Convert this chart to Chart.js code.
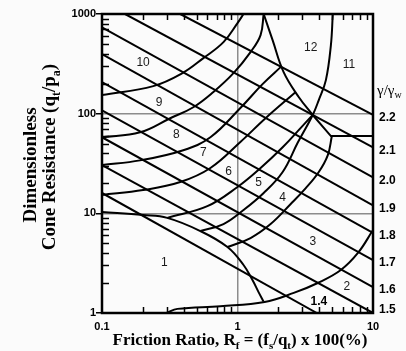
<!DOCTYPE html>
<html>
<head>
<meta charset="utf-8">
<script src="https://cdn.jsdelivr.net/npm/chart.js@4.4.1/dist/chart.umd.min.js"></script>
<style>
  html, body { margin: 0; padding: 0; background: #fbfbfb; }
  canvas { display: block; }
</style>
</head>
<body>
<canvas id="sbt" width="406" height="351"></canvas>
<script>
// axes
const xTicks = [0.1, 1, 10]
const yTicks = [1, 10, 100, 1000]
const xGrid = [1]
const yGrid = [10, 100]

// unit weight lines, gamma / gamma_w
const gammaNames = ['2.2', '2.1', '2.0', '1.9', '1.8', '1.7', '1.6', '1.5', '1.4']
const gammaStartRf = [0.378, 0.148, 0.1, 0.1, 0.1, 0.1, 0.1, 0.1, 0.1]
const gammaStartQt = [1000, 1000, 735, 396, 207, 108, 58, 30.5, 16]
const gammaEndRf = [10, 10, 10, 10, 10, 10, 10, 10, 3.85]
const gammaEndQt = [97, 46, 23, 12, 6.35, 3.4, 1.82, 1.0, 1]

// zone boundaries (Rf %, qt/pa)
const b10Rf = [0.1, 0.239, 0.392, 0.56, 0.788, 1.0, 1.108]
const b10Qt = [154, 189, 255, 361, 522, 811, 1000]
const b9Rf = [0.1, 0.191, 0.319, 0.472, 0.664, 0.934, 1.248, 1.48, 1.56]
const b9Qt = [58, 65, 90, 116, 165, 255, 415, 614, 1000]
const b8Rf = [0.1, 0.191, 0.398, 0.631, 1.05, 1.53, 2.12]
const b8Qt = [30.5, 34, 43, 58, 114, 198, 300]
const b7Rf = [0.1, 0.201, 0.378, 0.631, 1.05, 1.61, 2.69]
const b7Qt = [15.3, 17.1, 20.6, 28.5, 52, 90, 165]
const b6Rf = [0.303, 0.599, 1.0, 1.48, 2.154, 2.93, 3.59]
const b6Qt = [9.0, 11.8, 18.4, 28.5, 46, 72, 97]
const b5Rf = [0.532, 0.788, 1.108, 1.56, 2.154, 2.78, 3.59, 3.98, 4.49, 4.89, 5.05]
const b5Qt = [6.64, 7.8, 10.8, 16, 26, 51, 97, 137, 217, 488, 1000]
const b4Rf = [0.843, 1.248, 1.755, 2.47, 3.19, 3.98, 4.64, 4.97]
const b4Qt = [4.59, 5.65, 7.8, 12.4, 17.9, 26, 38.4, 59.6]
const b12Rf = [1.56, 1.816, 2.19, 2.83, 3.59]
const b12Qt = [1000, 547, 261, 147, 97]
const b11Rf = [3.59, 4.89, 10]
const b11Qt = [97, 59.6, 59.6]
const b1Rf = [0.1, 0.201, 0.303, 0.532, 0.843, 1.108, 1.29, 1.43, 1.56]
const b1Qt = [10.3, 9.6, 9.0, 6.64, 4.59, 3.03, 2.14, 1.62, 1.3]
const b2Rf = [0.3, 0.36, 0.748, 1.585, 2.6, 3.91, 5.79, 7.74, 10]
const b2Qt = [1.0, 1.1, 1.17, 1.29, 1.59, 2.0, 2.7, 4.0, 6.8]

// zone numbers
const zoneNames = ['1', '2', '3', '4', '5', '6', '7', '8', '9', '10', '11', '12']
const zoneRf = [0.288, 6.41, 3.59, 2.154, 1.43, 0.858, 0.56, 0.353, 0.264, 0.201, 6.64, 3.47]
const zoneQt = [3.17, 1.82, 5.15, 14.2, 20.1, 26, 40.3, 61, 128, 322, 307, 455]

const gridGray = '#8c8c8c'

function linea(rf, qt, tension) {
    return {
        data: rf.map((v, i) => ({ x: v, y: qt[i] })),
        showLine: true,
        borderColor: '#000',
        borderWidth: 2,
        pointRadius: 0,
        tension: tension
    }
}

let datasets = []
for (let i = 0; i < gammaNames.length; i++) {
    datasets.push(linea([gammaStartRf[i], gammaEndRf[i]], [gammaStartQt[i], gammaEndQt[i]], 0))
}
datasets.push(linea(b10Rf, b10Qt, 0.4))
datasets.push(linea(b9Rf, b9Qt, 0.4))
datasets.push(linea(b8Rf, b8Qt, 0.4))
datasets.push(linea(b7Rf, b7Qt, 0.4))
datasets.push(linea(b6Rf, b6Qt, 0.4))
datasets.push(linea(b5Rf, b5Qt, 0.4))
datasets.push(linea(b4Rf, b4Qt, 0.4))
datasets.push(linea(b12Rf, b12Qt, 0.4))
datasets.push(linea(b11Rf, b11Qt, 0))
datasets.push(linea(b1Rf, b1Qt, 0.4))
datasets.push(linea(b2Rf, b2Qt, 0.4))

// text with subscripts: parts = [[text, sub?], ...]
function textoRico(ctx, parts, x, y, size, family) {
    const fNorm = `bold ${size}px ${family}`
    const fSub = `bold ${Math.round(size * 0.62)}px ${family}`
    let total = 0
    parts.forEach(p => { ctx.font = p[1] ? fSub : fNorm; total += ctx.measureText(p[0]).width })
    let cx = x - total / 2
    ctx.textAlign = 'left'
    ctx.textBaseline = 'alphabetic'
    parts.forEach(p => {
        ctx.font = p[1] ? fSub : fNorm
        ctx.fillText(p[0], cx, y + (p[1] ? size * 0.25 : 0))
        cx += ctx.measureText(p[0]).width
    })
}

const extras = {
    id: 'extras',
    afterDatasetsDraw(chart) {
        const { ctx, chartArea: a, scales: { x, y } } = chart
        ctx.save()
        ctx.strokeStyle = '#000'
        ctx.lineWidth = 1.5
        // minor ticks
        for (let d = 0; d < xTicks.length - 1; d++) {
            for (let k = 2; k <= 9; k++) {
                const px = Math.round(x.getPixelForValue(xTicks[d] * k)) + 0.5
                ctx.beginPath()
                ctx.moveTo(px, a.top); ctx.lineTo(px, a.top + 6)
                ctx.moveTo(px, a.bottom); ctx.lineTo(px, a.bottom - 6)
                ctx.stroke()
            }
        }
        for (let d = 0; d < yTicks.length - 1; d++) {
            for (let k = 2; k <= 9; k++) {
                const py = Math.round(y.getPixelForValue(yTicks[d] * k)) + 0.5
                ctx.beginPath()
                ctx.moveTo(a.left, py); ctx.lineTo(a.left + 7, py)
                ctx.stroke()
            }
        }
        // frame
        ctx.lineWidth = 2.5
        ctx.strokeRect(a.left, a.top, a.right - a.left, a.bottom - a.top)

        // zone numbers
        ctx.fillStyle = '#1a1a1a'
        ctx.font = '12px "Liberation Sans", Arial, sans-serif'
        ctx.textAlign = 'center'
        ctx.textBaseline = 'middle'
        for (let i = 0; i < zoneNames.length; i++) {
            ctx.fillText(zoneNames[i], x.getPixelForValue(zoneRf[i]), y.getPixelForValue(zoneQt[i]))
        }
        // gamma labels on the right
        ctx.fillStyle = '#000'
        ctx.font = 'bold 12px "Liberation Sans", Arial, sans-serif'
        ctx.textAlign = 'left'
        for (let i = 0; i < gammaNames.length; i++) {
            if (gammaEndRf[i] < 10) {
                ctx.textAlign = 'center'
                ctx.fillText(gammaNames[i], x.getPixelForValue(gammaEndRf[i]) + 2, y.getPixelForValue(1.29))
                ctx.textAlign = 'left'
                continue
            }
            const py = Math.min(y.getPixelForValue(gammaEndQt[i]) + 3, a.bottom - 3)
            ctx.fillText(gammaNames[i], a.right + 6, py)
        }
        ctx.font = '15px "Liberation Serif", serif'
        ctx.textBaseline = 'alphabetic'
        ctx.fillText('\u03b3/\u03b3', a.right + 4, 95)
        const wg = ctx.measureText('\u03b3/\u03b3').width
        ctx.font = '10px "Liberation Serif", serif'
        ctx.fillText('w', a.right + 4 + wg, 98)

        // axis titles
        const serif = '"Liberation Serif", "Times New Roman", serif'
        textoRico(ctx, [['Friction Ratio, R', 0], ['f', 1], [' = (f', 0], ['s', 1], ['/q', 0], ['t', 1], [') x 100(%)', 0]],
            240, 345, 17, serif)
        ctx.save()
        ctx.translate(36, 165)
        ctx.rotate(-Math.PI / 2)
        textoRico(ctx, [['Dimensionless', 0]], 0, 0, 19, serif)
        ctx.restore()
        ctx.save()
        ctx.translate(55, 157)
        ctx.rotate(-Math.PI / 2)
        textoRico(ctx, [['Cone Resistance (q', 0], ['t', 1], ['/p', 0], ['a', 1], [')', 0]], 0, 0, 19, serif)
        ctx.restore()
        ctx.restore()
    }
}

let graficoSBT = new Chart(document.getElementById('sbt'), {
    type: 'scatter',
    data: { datasets: datasets },
    options: {
        responsive: false,
        animation: false,
        layout: { padding: { left: 0, right: 33, top: 14, bottom: 0 } },
        plugins: { legend: { display: false }, tooltip: { enabled: false } },
        scales: {
            x: {
                type: 'logarithmic',
                min: 0.1,
                max: 10,
                afterBuildTicks: s => { s.ticks = xTicks.map(v => ({ value: v })) },
                afterFit: s => { s.height = 38 },
                border: { display: false },
                grid: {
                    drawTicks: false,
                    lineWidth: 1.5,
                    color: c => (c.tick && xGrid.includes(c.tick.value)) ? gridGray : 'rgba(0,0,0,0)'
                },
                ticks: {
                    autoSkip: false,
                    maxRotation: 0,
                    padding: 7,
                    color: '#000',
                    font: { family: '"Liberation Sans", Arial, sans-serif', size: 11, weight: 'bold' },
                    callback: v => String(v)
                }
            },
            y: {
                type: 'logarithmic',
                min: 1,
                max: 1000,
                afterBuildTicks: s => { s.ticks = yTicks.map(v => ({ value: v })) },
                afterFit: s => { s.width = 102 },
                border: { display: false },
                grid: {
                    drawTicks: true,
                    tickLength: 6,
                    tickWidth: 1.5,
                    tickColor: '#000',
                    lineWidth: 1.5,
                    color: c => (c.tick && yGrid.includes(c.tick.value)) ? gridGray : 'rgba(0,0,0,0)'
                },
                ticks: {
                    autoSkip: false,
                    padding: 0,
                    color: '#000',
                    font: { family: '"Liberation Sans", Arial, sans-serif', size: 11, weight: 'bold' },
                    callback: v => String(v)
                }
            }
        }
    },
    plugins: [extras]
})
</script>
</body>
</html>
